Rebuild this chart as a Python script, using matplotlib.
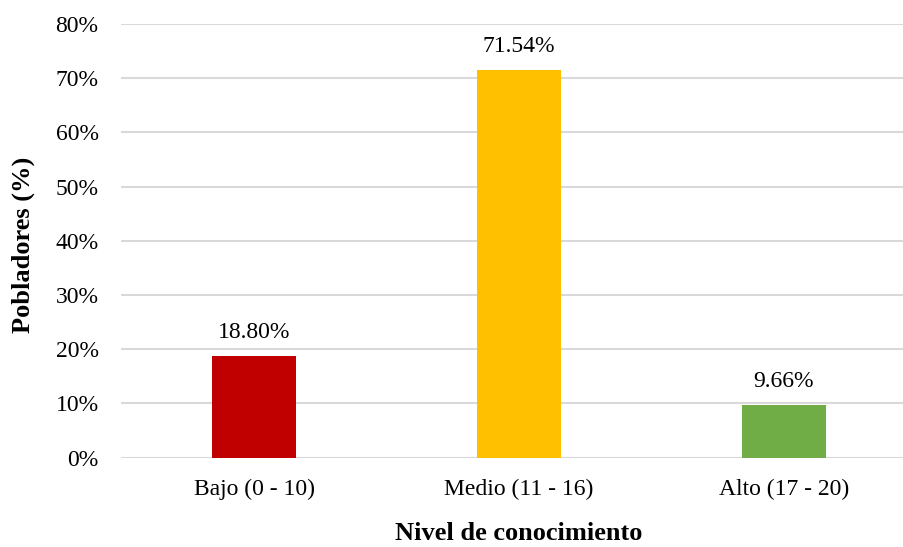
import numpy as np
import matplotlib.pyplot as plt

categories = ['Bajo (0 - 10)', 'Medio (11 - 16)', 'Alto (17 - 20)']
percentages = [18.80, 71.54, 9.66]
bar_colors = ['#C00000', '#FFC000', '#70AD47']
y_ticks = [0, 10, 20, 30, 40, 50, 60, 70, 80]

plt.rcParams['font.family'] = ['Liberation Serif', 'DejaVu Serif']

fig = plt.figure(figsize=(9.04, 5.47), dpi=100)
ax = fig.add_axes([121.5 / 904, 1 - 457.7 / 547, 1 - 121.5 / 904, (457.7 - 24) / 547])

x = np.arange(len(categories))
ax.bar(x, percentages, width=0.317, color=bar_colors, zorder=3)

for xi, val in zip(x, percentages):
    ax.text(xi, val + 2.4, f'{val:.2f}%', ha='center', va='bottom', fontsize=17, color='black')

ax.set_xlim(-0.5, (904 - 121.5) / 265 - 0.5)
ax.set_ylim(0, 80)
ax.set_yticks(y_ticks)
ax.set_yticklabels([f'{t}%' for t in y_ticks], fontsize=17, color='black')
ax.set_xticks(x)
ax.set_xticklabels(categories, fontsize=17, color='black')
ax.tick_params(axis='x', length=0, pad=15)
ax.tick_params(axis='y', length=0, pad=16.5)

ax.grid(axis='y', color='#D9D9D9', linewidth=1.5, zorder=0)
for s in ax.spines.values():
    s.set_visible(False)

# x label sits close to the bottom edge in the original
fig.text(519 / 904, 1 - 540 / 547, 'Nivel de conocimiento', ha='center', va='baseline',
         fontsize=19, fontweight='bold')
fig.text(23 / 904, 1 - 245 / 547, 'Pobladores (%)', ha='center', va='center',
         rotation=90, fontsize=19, fontweight='bold')

fig.savefig('out.png', dpi=100)
